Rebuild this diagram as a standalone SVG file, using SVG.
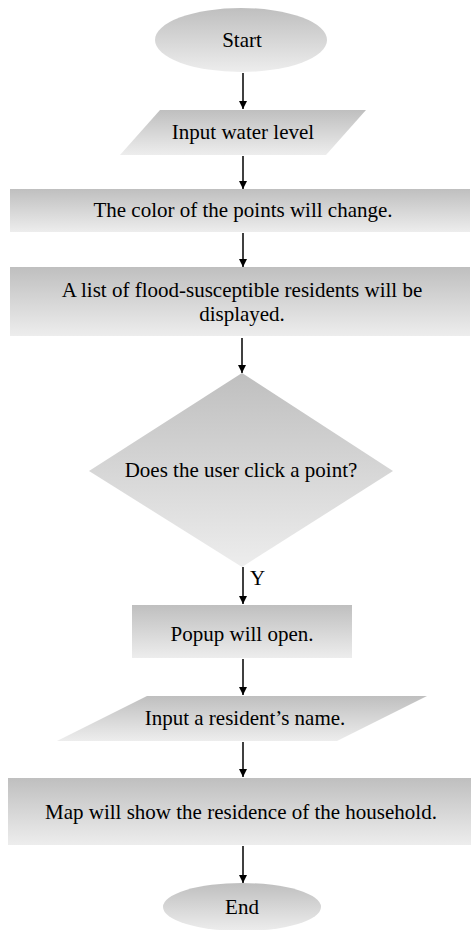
<svg xmlns="http://www.w3.org/2000/svg" width="471" height="930" viewBox="0 0 471 930">
  <defs>
    <linearGradient id="shade" x1="0" y1="0" x2="0" y2="1">
      <stop offset="0" stop-color="#bfbfbf"/>
      <stop offset="1" stop-color="#ededed"/>
    </linearGradient>
    <marker id="arrow" viewBox="0 0 10 10" refX="10" refY="5" markerWidth="8" markerHeight="8" markerUnits="userSpaceOnUse" orient="auto">
      <path d="M0,0 L10,5 L0,10 Z" fill="#000"/>
    </marker>
  </defs>
  <style>
    .shape { fill: url(#shade); stroke: none; }
    .label { font-family: "Liberation Serif", "Times New Roman", serif; font-size: 21px; fill: #000; text-anchor: middle; }
    .edge { stroke: #000; stroke-width: 1.5; fill: none; marker-end: url(#arrow); }
  </style>

  <g id="start">
    <ellipse class="shape" cx="241" cy="40" rx="86" ry="32"/>
    <text class="label" x="242" y="47">Start</text>
  </g>

  <g id="input-water-level">
    <polygon class="shape" points="160,110 366,110 326,155 120,155"/>
    <text class="label" x="243" y="139">Input water level</text>
  </g>

  <g id="color-change">
    <rect class="shape" x="10" y="189" width="460" height="43"/>
    <text class="label" x="243" y="217">The color of the points will  change.</text>
  </g>

  <g id="resident-list">
    <rect class="shape" x="10" y="267" width="460" height="69"/>
    <text class="label" x="242" y="297">A list of flood-susceptible residents will  be</text>
    <text class="label" x="242" y="321">displayed.</text>
  </g>

  <g id="click-decision">
    <polygon class="shape" points="242,373 393,471 242,567 89,471"/>
    <text class="label" x="241" y="477">Does the user click  a point?</text>
  </g>

  <g id="popup">
    <rect class="shape" x="132" y="605" width="220" height="53"/>
    <text class="label" x="242" y="641">Popup will  open.</text>
  </g>

  <g id="input-name">
    <polygon class="shape" points="147,696 427,696 337,741 57,741"/>
    <text class="label" x="245" y="725">Input a resident’s name.</text>
  </g>

  <g id="show-residence">
    <rect class="shape" x="8" y="778" width="463" height="67"/>
    <text class="label" x="241" y="819">Map will  show the residence of the household.</text>
  </g>

  <g id="end">
    <ellipse class="shape" cx="242" cy="907" rx="79" ry="24"/>
    <text class="label" x="242" y="914">End</text>
  </g>

  <g id="connectors">
    <line class="edge" x1="243" y1="73" x2="243" y2="109"/>
    <line class="edge" x1="243" y1="156" x2="243" y2="189"/>
    <line class="edge" x1="243" y1="233" x2="243" y2="267"/>
    <line class="edge" x1="242" y1="338" x2="242" y2="373"/>
    <line class="edge" x1="243" y1="567" x2="243" y2="604"/>
    <text class="label" x="250" y="585" style="text-anchor: start">Y</text>
    <line class="edge" x1="243" y1="659" x2="243" y2="695"/>
    <line class="edge" x1="243" y1="742" x2="243" y2="777"/>
    <line class="edge" x1="243" y1="846" x2="243" y2="883"/>
  </g>
</svg>
